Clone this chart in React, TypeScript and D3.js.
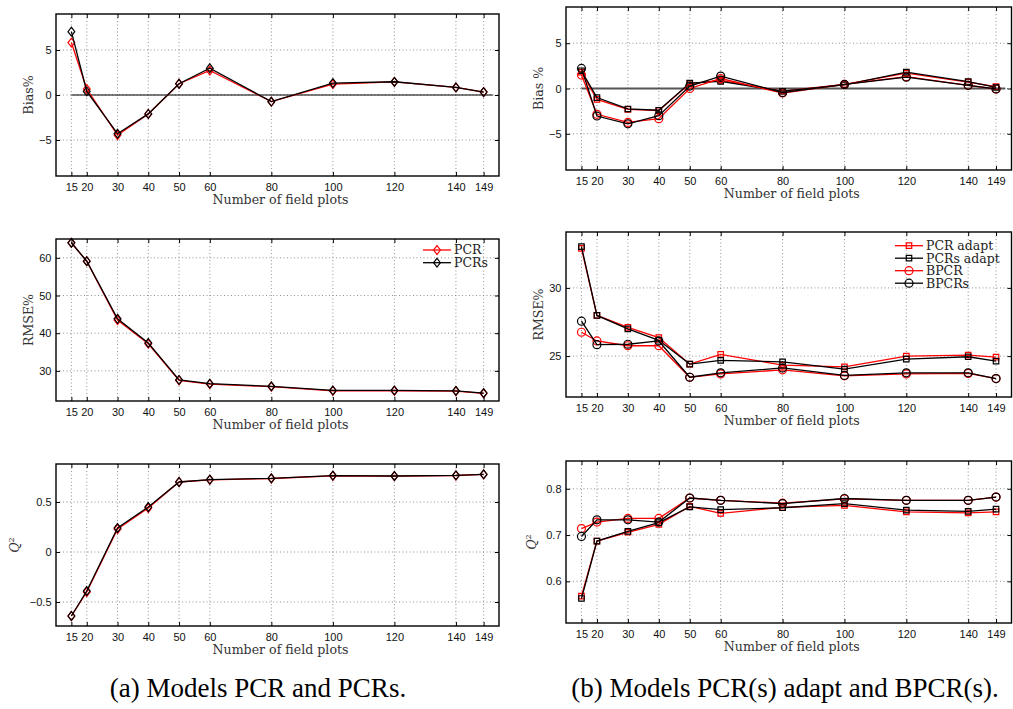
import React, { useRef, useEffect } from 'react';
import * as d3 from 'd3';

// number of field plots (x axis, same for all panels)
const plots = [15, 20, 30, 40, 50, 60, 80, 100, 120, 140, 149];

// (a) PCR and PCRs
const biasPCR = [5.83, 0.66, -4.45, -2.1, 1.25, 2.72, -0.74, 1.2, 1.45, 0.84, 0.33];
const biasPCRs = [7.04, 0.4, -4.3, -2.1, 1.25, 2.98, -0.74, 1.33, 1.47, 0.84, 0.33];
const rmsePCR = [64.0, 59.1, 43.5, 37.2, 27.5, 26.5, 25.8, 24.7, 24.7, 24.6, 24.0];
const rmsePCRs = [64.0, 59.1, 43.8, 37.4, 27.6, 26.6, 25.9, 24.8, 24.8, 24.7, 24.1];
const q2PCR = [-0.64, -0.4, 0.23, 0.44, 0.7, 0.722, 0.735, 0.762, 0.758, 0.765, 0.776];
const q2PCRs = [-0.64, -0.39, 0.24, 0.45, 0.7, 0.724, 0.737, 0.764, 0.76, 0.767, 0.777];

// (b) PCR(s) adapt and BPCR(s)
const biasPCRa = [1.8, -1.2, -2.3, -2.45, 0.55, 0.9, -0.3, 0.45, 1.7, 0.7, 0.2];
const biasPCRsa = [1.96, -1.0, -2.26, -2.4, 0.6, 0.78, -0.3, 0.4, 1.8, 0.75, 0.12];
const biasBPCR = [1.48, -2.85, -3.75, -3.33, 0.0, 1.1, -0.5, 0.45, 1.3, 0.35, -0.05];
const biasBPCRs = [2.22, -3.04, -3.9, -3.0, 0.27, 1.37, -0.45, 0.45, 1.25, 0.35, -0.05];

const rmsePCRa = [32.9, 27.98, 27.1, 26.35, 24.41, 25.12, 24.34, 24.21, 25.0, 25.07, 24.93];
const rmsePCRsa = [33.03, 27.98, 27.0, 26.16, 24.41, 24.68, 24.58, 24.04, 24.78, 24.95, 24.63];
const rmseBPCR = [26.75, 26.11, 25.76, 25.76, 23.45, 23.69, 23.99, 23.55, 23.69, 23.73, 23.35];
const rmseBPCRs = [27.56, 25.84, 25.87, 26.11, 23.45, 23.77, 24.13, 23.58, 23.77, 23.77, 23.35];

const q2PCRa = [0.568, 0.687, 0.706, 0.723, 0.762, 0.747, 0.76, 0.764, 0.75, 0.748, 0.75];
const q2PCRsa = [0.563, 0.687, 0.708, 0.727, 0.761, 0.755, 0.759, 0.768, 0.754, 0.751, 0.756];
const q2BPCR = [0.714, 0.728, 0.736, 0.736, 0.78, 0.775, 0.769, 0.778, 0.775, 0.775, 0.782];
const q2BPCRs = [0.697, 0.733, 0.733, 0.728, 0.78, 0.775, 0.768, 0.779, 0.775, 0.775, 0.782];

const legendA = ['PCR', 'PCRs'];
const legendB = ['PCR adapt', 'PCRs adapt', 'BPCR', 'BPCRs'];

const RED = '#ff0000';
const SERIF = '"DejaVu Serif", serif';
const SANS = '"Liberation Sans", Arial, sans-serif';

// matlab-like diamond, a bit taller than wide
const diamond = {
  draw(ctx, size) {
    const w = 3.4, h = 4.4;
    ctx.moveTo(0, -h);
    ctx.lineTo(w, 0);
    ctx.lineTo(0, h);
    ctx.lineTo(-w, 0);
    ctx.closePath();
  },
};

const seriesA = (a, b) => [
  { values: a, color: RED, marker: diamond },
  { values: b, color: '#000', marker: diamond },
];
const seriesB = (a, b, c, d) => [
  { values: a, color: RED, marker: d3.symbolSquare },
  { values: b, color: '#000', marker: d3.symbolSquare },
  { values: c, color: RED, marker: d3.symbolCircle },
  { values: d, color: '#000', marker: d3.symbolCircle },
];

const markerSize = (m) => (m === d3.symbolSquare ? 30 : 50);

const panels = [
  { x0: 56, x1: 499, y0: 14, y1: 176, yDomain: [-9, 9], yTicks: [-5, 0, 5], ylabel: 'Bias%', labelOff: 27, zero: '#000', series: seriesA(biasPCR, biasPCRs) },
  { x0: 56, x1: 499, y0: 239, y1: 401, yDomain: [22, 65], yTicks: [30, 40, 50, 60], ylabel: 'RMSE%', labelOff: 27, series: seriesA(rmsePCR, rmsePCRs), legend: { names: legendA, x: 423, y: 250, step: 12.7 } },
  { x0: 56, x1: 499, y0: 464, y1: 626, yDomain: [-0.74, 0.88], yTicks: [-0.5, 0, 0.5], ylabel: 'Q2', labelOff: 41, series: seriesA(q2PCR, q2PCRs) },
  { x0: 566, x1: 1011.5, y0: 7, y1: 170, yDomain: [-9, 9], yTicks: [-5, 0, 5], ylabel: 'Bias %', labelOff: 27, zero: '#555', series: seriesB(biasPCRa, biasPCRsa, biasBPCR, biasBPCRs) },
  { x0: 566, x1: 1011.5, y0: 232, y1: 397, yDomain: [22, 34.1], yTicks: [25, 30], ylabel: 'RMSE%', labelOff: 27, series: seriesB(rmsePCRa, rmsePCRsa, rmseBPCR, rmseBPCRs), legend: { names: legendB, x: 895, y: 245.7, step: 12.5 } },
  { x0: 566, x1: 1011.5, y0: 461, y1: 623, yDomain: [0.51, 0.86], yTicks: [0.6, 0.7, 0.8], ylabel: 'Q2', labelOff: 34, series: seriesB(q2PCRa, q2PCRsa, q2BPCR, q2BPCRs) },
];

function drawPanel(svg, p) {
  const x = d3.scaleLinear().domain([10, 154]).range([p.x0, p.x1]);
  const y = d3.scaleLinear().domain(p.yDomain).range([p.y1, p.y0]);
  const g = svg.append('g');

  // dotted grid
  g.selectAll('.gx').data(plots).enter().append('line')
    .attr('x1', d => x(d)).attr('x2', d => x(d))
    .attr('y1', p.y0).attr('y2', p.y1)
    .attr('stroke', '#777').attr('stroke-width', 0.8).attr('stroke-dasharray', '1,2.5');
  g.selectAll('.gy').data(p.yTicks).enter().append('line')
    .attr('x1', p.x0).attr('x2', p.x1)
    .attr('y1', d => y(d)).attr('y2', d => y(d))
    .attr('stroke', '#777').attr('stroke-width', 0.8).attr('stroke-dasharray', '1,2.5');

  if (p.zero) {
    g.append('line')
      .attr('x1', x(15)).attr('x2', x(152))
      .attr('y1', y(0)).attr('y2', y(0))
      .attr('stroke', p.zero).attr('stroke-width', p.zero === '#000' ? 1.2 : 1.8);
  }

  const line = d3.line().x((d, i) => x(plots[i])).y(d => y(d));
  p.series.forEach(s => {
    g.append('path')
      .datum(s.values)
      .attr('fill', 'none')
      .attr('stroke', s.color)
      .attr('stroke-width', 1.3)
      .attr('d', line);
    g.selectAll(null).data(s.values).enter().append('path')
      .attr('transform', (d, i) => `translate(${x(plots[i])},${y(d)})`)
      .attr('d', d3.symbol(s.marker, markerSize(s.marker)))
      .attr('fill', 'none')
      .attr('stroke', s.color)
      .attr('stroke-width', 1.2);
  });

  // box
  g.append('rect')
    .attr('x', p.x0).attr('y', p.y0)
    .attr('width', p.x1 - p.x0).attr('height', p.y1 - p.y0)
    .attr('fill', 'none').attr('stroke', '#000').attr('stroke-width', 1.4);

  const fmt = d3.format('');
  const axes = [
    g.append('g').attr('transform', `translate(0,${p.y1})`)
      .call(d3.axisBottom(x).tickValues(plots).tickSizeInner(-4).tickSizeOuter(0).tickPadding(7)),
    g.append('g').attr('transform', `translate(0,${p.y0})`)
      .call(d3.axisTop(x).tickValues(plots).tickSizeInner(-4).tickSizeOuter(0).tickFormat(() => '')),
    g.append('g').attr('transform', `translate(${p.x0},0)`)
      .call(d3.axisLeft(y).tickValues(p.yTicks).tickSizeInner(-4).tickSizeOuter(0).tickPadding(4.5).tickFormat(fmt)),
    g.append('g').attr('transform', `translate(${p.x1},0)`)
      .call(d3.axisRight(y).tickValues(p.yTicks).tickSizeInner(-4).tickSizeOuter(0).tickFormat(() => '')),
  ];
  axes.forEach(a => {
    a.select('.domain').remove();
    a.selectAll('line').attr('stroke', '#000').attr('stroke-width', 1);
    a.attr('font-family', SANS).attr('font-size', 11);
    a.selectAll('text').attr('fill', '#111');
  });

  g.append('text')
    .attr('x', (p.x0 + p.x1) / 2 + 3)
    .attr('y', p.y1 + 27.5)
    .attr('text-anchor', 'middle')
    .attr('font-family', SERIF)
    .attr('font-size', 12.6)
    .attr('fill', '#333')
    .text('Number of field plots');

  const yl = g.append('text')
    .attr('transform', `translate(${p.x0 - p.labelOff},${(p.y0 + p.y1) / 2}) rotate(-90)`)
    .attr('text-anchor', 'middle')
    .attr('dy', '0.35em')
    .attr('font-family', SERIF)
    .attr('font-size', 12.6)
    .attr('fill', '#333');
  if (p.ylabel === 'Q2') {
    yl.append('tspan').attr('font-style', 'italic').text('Q');
    yl.append('tspan').attr('dy', -5).attr('font-size', 8).text('2');
  } else {
    yl.text(p.ylabel);
  }

  if (p.legend) {
    const lg = p.legend;
    p.series.forEach((s, i) => {
      const ly = lg.y + i * lg.step;
      g.append('line')
        .attr('x1', lg.x).attr('x2', lg.x + 28)
        .attr('y1', ly).attr('y2', ly)
        .attr('stroke', s.color).attr('stroke-width', 1.3);
      g.append('path')
        .attr('transform', `translate(${lg.x + 14},${ly})`)
        .attr('d', d3.symbol(s.marker, markerSize(s.marker)))
        .attr('fill', 'none').attr('stroke', s.color).attr('stroke-width', 1.2);
      g.append('text')
        .attr('x', lg.x + 31).attr('y', ly)
        .attr('dy', '0.35em')
        .attr('font-family', SERIF)
        .attr('font-size', 12.5)
        .attr('fill', '#222')
        .text(lg.names[i]);
    });
  }
}

const App = () => {
  const ref = useRef(null);

  useEffect(() => {
    const svg = d3.select(ref.current);
    svg.selectAll('*').remove();
    panels.forEach(p => drawPanel(svg, p));

    const captions = [
      { x: 258, text: '(a) Models PCR and PCRs.' },
      { x: 785, text: '(b) Models PCR(s) adapt and BPCR(s).' },
    ];
    svg.selectAll('.caption').data(captions).enter().append('text')
      .attr('class', 'caption')
      .attr('x', d => d.x)
      .attr('y', 697)
      .attr('text-anchor', 'middle')
      .attr('font-family', '"Liberation Serif", "Times New Roman", serif')
      .attr('font-size', 27)
      .attr('fill', '#000')
      .text(d => d.text);
  }, []);

  return (
    <svg ref={ref} width={1013} height={709}
      style={{ position: 'absolute', left: 0, top: 0, background: '#fff' }} />
  );
};

export default App;
